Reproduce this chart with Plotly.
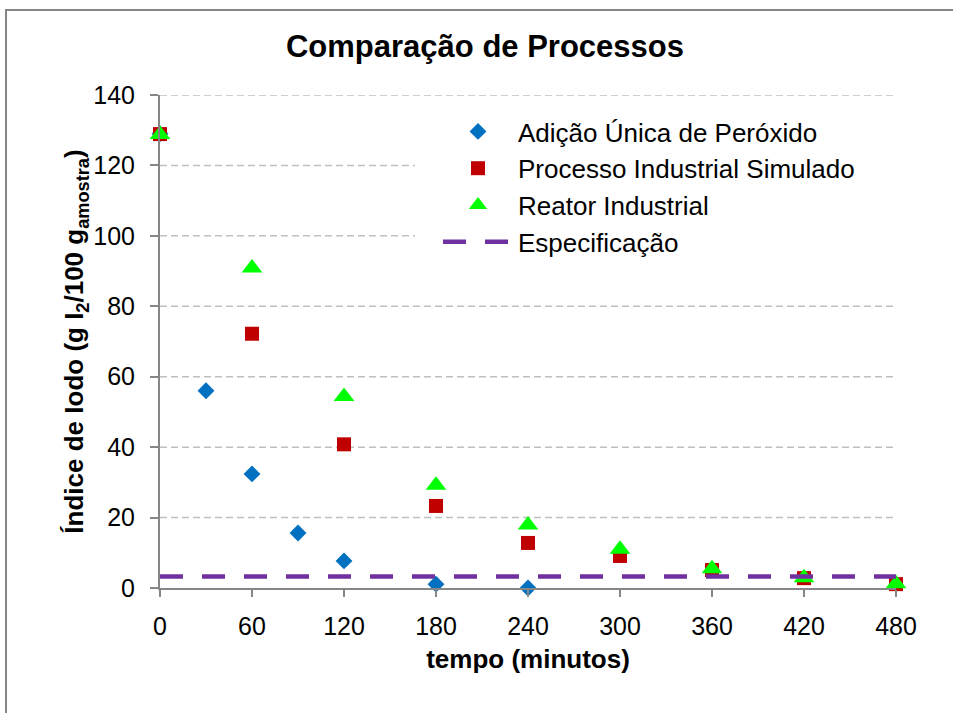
import plotly.graph_objects as go

# Tempo de reação (minutos) e índice de iodo para cada processo
tempo_adicao = [0, 30, 60, 90, 120, 180, 240]
iodo_adicao = [129.0, 56.0, 32.4, 15.6, 7.7, 1.1, 0.0]

tempo_industrial = [0, 60, 120, 180, 240, 300, 360, 420, 480]
iodo_simulado = [128.9, 72.2, 40.8, 23.3, 12.8, 9.1, 5.1, 2.8, 1.1]
iodo_reator = [128.8, 90.9, 54.4, 29.2, 17.9, 11.0, 5.5, 2.9, 1.2]

# Limite de especificação ao longo de todo o ensaio
tempo_especificacao = [0, 480]
valor_especificacao = 3.3

x_ticks = [0, 60, 120, 180, 240, 300, 360, 420, 480]
y_ticks = [0, 20, 40, 60, 80, 100, 120, 140]

FONT = "Liberation Sans, Arial, sans-serif"
AXIS_GREY = "#868686"
GRID_GREY = "#BFBFBF"

W, H = 953, 713
L, R, T, B = 160, 57, 95, 125
PW, PH = W - L - R, H - T - B
X_MAX, Y_MAX = 480, 140


def px_x(p):
    return (p - L) / PW


def px_y(p):
    return (H - B - p) / PH


fig = go.Figure()

fig.add_trace(go.Scatter(
    x=tempo_adicao, y=iodo_adicao, mode="markers",
    name="Adição Única de Peróxido",
    marker=dict(symbol="diamond", size=13, color="#0070C0"),
    cliponaxis=False,
))
fig.add_trace(go.Scatter(
    x=tempo_industrial, y=iodo_simulado, mode="markers",
    name="Processo Industrial Simulado",
    marker=dict(symbol="square", size=14, color="#C00000"),
    cliponaxis=False,
))
fig.add_trace(go.Scatter(
    x=tempo_industrial, y=iodo_reator, mode="markers",
    name="Reator Industrial",
    marker=dict(symbol="triangle-up", size=18, color="#00FF00"),
    cliponaxis=False,
))
fig.add_trace(go.Scatter(
    x=tempo_especificacao,
    y=[valor_especificacao] * len(tempo_especificacao),
    mode="lines", name="Especificação",
    line=dict(color="#7030A0", width=4.5, dash="23px,19px"),
    cliponaxis=False,
))

# linhas de grade horizontais tracejadas
shapes = [
    dict(type="line", xref="paper", yref="y", x0=0, x1=1, y0=v, y1=v,
         line=dict(color=GRID_GREY, width=1.5, dash="7px,4px"), layer="below")
    for v in y_ticks if v > 0
]
# fundo branco da legenda, por cima das linhas de grade
shapes.append(dict(
    type="rect", xref="paper", yref="paper",
    x0=px_x(415), x1=px_x(902), y0=px_y(265), y1=px_y(108),
    fillcolor="white", line=dict(width=0), layer="below"))
# moldura da área do gráfico
shapes.append(dict(
    type="rect", xref="paper", yref="paper",
    x0=px_x(6), x1=px_x(975), y0=px_y(740), y1=px_y(10),
    fillcolor="rgba(0,0,0,0)", line=dict(color=AXIS_GREY, width=2),
    layer="above"))

fig.update_layout(
    width=W, height=H,
    margin=dict(l=L, r=R, t=T, b=B),
    paper_bgcolor="white", plot_bgcolor="white",
    font=dict(family=FONT, color="black"),
    title=dict(
        text="<b>Comparação de Processos</b>",
        font=dict(size=31, family=FONT, color="black"),
        x=485 / W, xref="container", xanchor="center",
        y=1 - 46 / H, yref="container", yanchor="middle",
    ),
    showlegend=True,
    legend=dict(
        x=px_x(438), y=px_y(108), xanchor="left", yanchor="top",
        bgcolor="rgba(0,0,0,0)",
        font=dict(size=26, family=FONT, color="black"),
        itemwidth=70,
        tracegroupgap=0,
    ),
    xaxis=dict(
        range=[0, X_MAX], tickvals=x_ticks,
        showgrid=False, zeroline=False,
        showline=True, linecolor=AXIS_GREY, linewidth=2,
        ticks="outside", ticklen=7, tickwidth=2, tickcolor=AXIS_GREY,
        tickfont=dict(size=25, family=FONT, color="black"),
        ticklabelstandoff=8,
        title=dict(text="<b>tempo (minutos)</b>",
                   font=dict(size=26, family=FONT, color="black"),
                   standoff=11),
    ),
    yaxis=dict(
        range=[0, Y_MAX], tickvals=y_ticks,
        showgrid=False, zeroline=False,
        showline=True, linecolor=AXIS_GREY, linewidth=2,
        ticks="outside", ticklen=8, tickwidth=2, tickcolor=AXIS_GREY,
        tickfont=dict(size=25, family=FONT, color="black"),
        ticklabelstandoff=10,
        title=dict(text="<b>Índice de Iodo (g I<sub>2</sub>/100 g<sub>amostra</sub>)</b>",
                   font=dict(size=26, family=FONT, color="black"),
                   standoff=2),
    ),
    shapes=shapes,
)

fig.write_html("out.html")
